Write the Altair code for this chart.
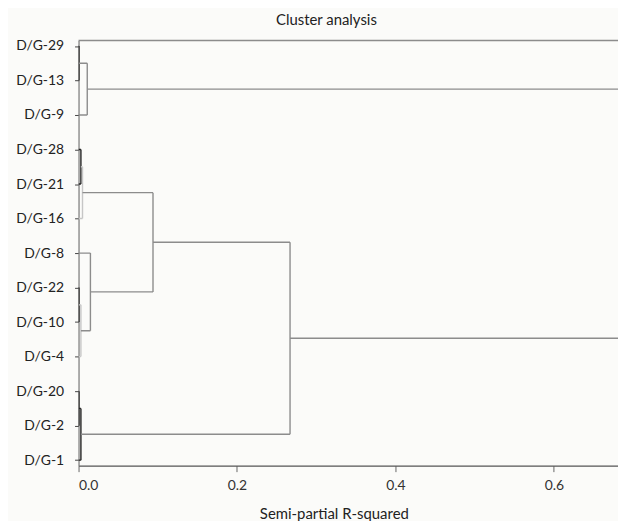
import altair as alt
import pandas as pd

# Leaf order (top to bottom)
leaves = ["D/G-29", "D/G-13", "D/G-9", "D/G-28", "D/G-21", "D/G-16",
          "D/G-8", "D/G-22", "D/G-10", "D/G-4", "D/G-20", "D/G-2", "D/G-1"]

# Agglomeration steps: cluster Ck is formed by merging left/right at height
merge_left = ["D/G-29", "C1", "D/G-28", "C3", "D/G-22", "C5",
              "D/G-8", "C4", "D/G-20", "C9", "C8", "C2"]
merge_right = ["D/G-13", "D/G-9", "D/G-21", "D/G-16", "D/G-10", "D/G-4",
               "C6", "C7", "D/G-2", "D/G-1", "C10", "C11"]
merge_height = [0.0005, 0.011, 0.003, 0.005, 0.0005, 0.003,
                0.015, 0.094, 0.0005, 0.003, 0.267, 0.80]
merge_shade = ["dark", "gray", "dark", "light", "dark", "light",
               "gray", "gray", "dark", "dark", "gray", "gray"]

x_ticks = [0.0, 0.2, 0.4, 0.6]
x_max = 0.681

# dendrogram layout in data space
pos = {name: (float(i), 0.0) for i, name in enumerate(leaves)}
rows = []
for k, (a, b, h, s) in enumerate(zip(merge_left, merge_right, merge_height, merge_shade), start=1):
    ya, ha = pos[a]
    yb, hb = pos[b]
    rows.append(dict(x=ha, x2=h, y=ya, y2=ya, shade=s))
    rows.append(dict(x=hb, x2=h, y=yb, y2=yb, shade=s))
    rows.append(dict(x=h, x2=h, y=ya, y2=yb, shade=s))
    pos[f"C{k}"] = ((ya + yb) / 2.0, h)
df = pd.DataFrame(rows)

label_expr = "[" + ",".join(f"'{n}'" for n in leaves) + "][datum.value]"
FONT = "Lato"
W, H = 543, 428

links = alt.Chart(df).mark_rule(clip=True, strokeWidth=1.4).encode(
    x=alt.X("x:Q",
            scale=alt.Scale(domain=[0, x_max], nice=False, zero=False),
            axis=alt.Axis(values=x_ticks, format=".1f", grid=False,
                          title="Semi-partial R-squared",
                          titleFont=FONT, titleFontSize=15, titleFontWeight="normal",
                          titleColor="#222", titleAnchor="start", titleX=182,
                          titlePadding=14,
                          labelFont=FONT, labelFontSize=14, labelColor="#333",
                          labelPadding=7,
                          domainColor="#555", domainWidth=1.3,
                          tickColor="#666", tickSize=6)),
    x2="x2:Q",
    y=alt.Y("y:Q",
            scale=alt.Scale(domain=[-0.16, 12.16], reverse=True, nice=False, zero=False),
            axis=alt.Axis(values=list(range(len(leaves))), labelExpr=label_expr,
                          grid=False, title=None,
                          labelFont=FONT, labelFontSize=14, labelColor="#222",
                          labelPadding=11,
                          domainColor="#777", domainWidth=1.2,
                          tickColor="#444", tickSize=4)),
    y2="y2:Q",
    color=alt.Color("shade:N",
                    scale=alt.Scale(domain=["dark", "gray", "light"],
                                    range=["#222222", "#8c8c8c", "#c6c6c6"]),
                    legend=None),
)

top = alt.Chart(pd.DataFrame({"v": [0]})).mark_rule(color="#8c8c8c", strokeWidth=1.4).encode(
    y=alt.value(0), x=alt.value(0), x2=alt.value(W)
)

chart = (links + top).properties(
    width=W, height=H,
    title=alt.Title("Cluster analysis", font=FONT, fontSize=15, fontWeight="normal",
                    color="#222", anchor="middle", dx=-22, offset=11),
    autosize=alt.AutoSizeParams(type="none"),
    padding={"left": 71, "top": 31, "right": 0, "bottom": 54},
    background="#fbfbf9",
).configure_view(stroke=None)

chart.save("out.html", embed_options={"renderer": "svg", "actions": False})
